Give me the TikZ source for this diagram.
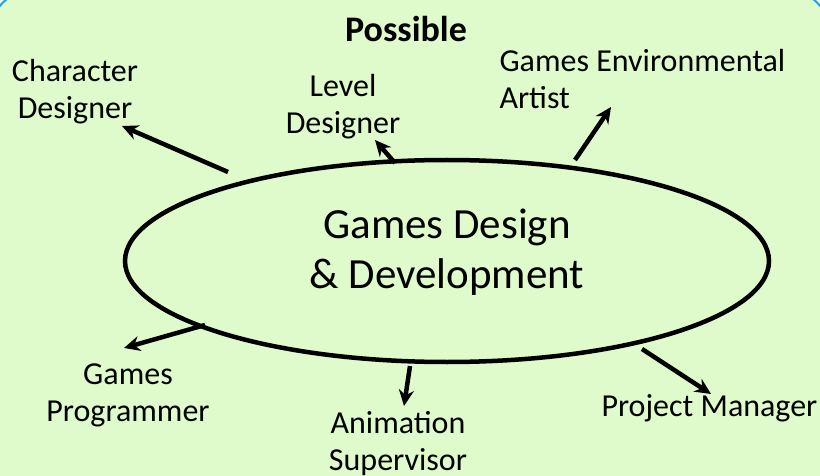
\documentclass[tikz,border=0pt]{standalone}
\usepackage{fontspec}
\setmainfont{Carlito}
\usepackage{tikz}
\usetikzlibrary{shapes, arrows.meta, positioning}
\definecolor{paleGreen}{HTML}{DFFBCB}
\definecolor{frameCyan}{HTML}{1AA3E8}

\begin{document}
\begin{tikzpicture}[>={Stealth[length=16pt,width=15pt]}, x=1pt, y=-1pt]
    % 背景
    \useasboundingbox (0,0) rectangle (820,476);
    \fill[white] (0,0) rectangle (820,476);
    \draw[frameCyan, line width=2pt, fill=paleGreen, rounded corners=40pt] (-9,-9) rectangle (829,500);

    % 中心椭圆
    \node[ellipse, draw, line width=4.5pt, minimum width=644pt, minimum height=202pt, inner sep=0pt] (core) at (447,261) {};
    \node[font=\fontsize{43}{50}\selectfont, align=center] (coreText) at (447,252) {Games Design\\\& Development};

    % 标题
    \node[font=\fontsize{36}{40}\selectfont\bfseries] (title) at (406,29) {Possible};

    % 职位
    \tikzset{job/.style={font=\fontsize{32}{37}\selectfont, align=center}}
    \node[job] (charDes) at (75,92) {Character\\Designer};
    \node[job] (levelDes) at (343,107) {Level\\Designer};
    \node[job, align=left, anchor=west] (envArt) at (496,79) {Games Environmental\\Artist};
    \node[job] (gameProg) at (128,395) {Games\\Programmer};
    \node[job] (animSup) at (398,444) {Animation\\Supervisor};
    \node[job, anchor=west] (projMan) at (598,408) {Project Manager};

    % 箭头
    \coordinate (t1) at (228,172); \coordinate (h1) at (122,126);
    \coordinate (t2) at (395,163); \coordinate (h2) at (375,140);
    \coordinate (t3) at (575,160); \coordinate (h3) at (611,107);
    \coordinate (t4) at (205,325); \coordinate (h4) at (124,348);
    \coordinate (t5) at (410,366); \coordinate (h5) at (404,406);
    \coordinate (t6) at (642,349); \coordinate (h6) at (711,394);
    \foreach \i in {1,...,6}
        \draw[->, line width=4.5pt] (t\i) -- (h\i);
\end{tikzpicture}
\end{document}
